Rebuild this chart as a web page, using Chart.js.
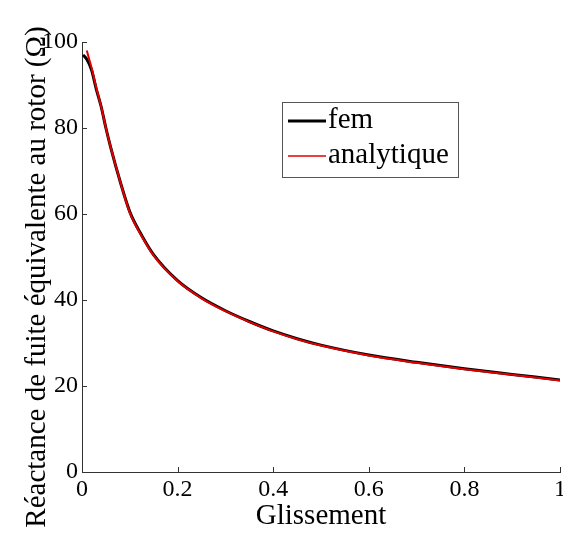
<!DOCTYPE html>
<html>
<head>
<meta charset="utf-8">
<script src="https://cdn.jsdelivr.net/npm/chart.js@4"></script>
<style>
  body { margin: 0; background: #fff; }
  #chart { display: block; }
</style>
</head>
<body>
<canvas id="chart" width="563" height="536"></canvas>
<script>
// slip values (x axis)
const slip = [0.002, 0.01, 0.02, 0.03, 0.04, 0.05, 0.06, 0.08, 0.1, 0.125, 0.15, 0.2, 0.25, 0.3, 0.35, 0.4, 0.45, 0.5, 0.6, 0.7, 0.8, 0.9, 1.0];
// finite element result
const femValues = [97.0, 96.0, 93.5, 89.0, 85.0, 80.0, 75.5, 67.5, 60.5, 55.0, 50.5, 44.5, 40.5, 37.5, 35.0, 32.8, 31.0, 29.5, 27.2, 25.5, 24.0, 22.7, 21.4];
// analytical model (starts a bit later)
const analyticSlip = slip.slice(1);
const analyticValues = [98.0, 94.0, 89.3, 85.0, 80.0, 75.5, 67.5, 60.3, 54.8, 50.3, 44.4, 40.4, 37.4, 34.9, 32.7, 30.9, 29.4, 27.1, 25.4, 23.9, 22.6, 21.3];

const xTicks = [0, 0.2, 0.4, 0.6, 0.8, 1];
const yTicks = [0, 20, 40, 60, 80, 100];

const serif = '"Liberation Serif", "DejaVu Serif", serif';
const yTitle = 'Réactance de fuite équivalente au rotor (Ω)';

const toPoints = (xs, ys) => xs.map((x, i) => ({ x: x, y: ys[i] }));

// inward tick marks on the left and bottom axes
const inwardTicks = {
  id: 'inwardTicks',
  afterDatasetsDraw(chart) {
    const { ctx, chartArea, scales } = chart;
    ctx.save();
    ctx.strokeStyle = '#333';
    ctx.lineWidth = 1;
    ctx.beginPath();
    xTicks.forEach(v => {
      const px = Math.round(scales.x.getPixelForValue(v)) + 0.5;
      ctx.moveTo(px, chartArea.bottom);
      ctx.lineTo(px, chartArea.bottom - 5);
    });
    yTicks.forEach(v => {
      const py = Math.round(scales.y.getPixelForValue(v)) + 0.5;
      ctx.moveTo(chartArea.left, py);
      ctx.lineTo(chartArea.left + 5, py);
    });
    ctx.stroke();
    ctx.restore();
  }
};

// y axis title, drawn rotated on the far left
const sideTitle = {
  id: 'sideTitle',
  afterDraw(chart) {
    const { ctx } = chart;
    ctx.save();
    ctx.translate(45, 277);
    ctx.rotate(-Math.PI / 2);
    ctx.font = '29px ' + serif;
    ctx.fillStyle = '#000';
    ctx.textAlign = 'center';
    ctx.textBaseline = 'alphabetic';
    ctx.fillText(yTitle, 0, 0);
    ctx.restore();
  }
};

// boxed legend inside the plot
const boxLegend = {
  id: 'boxLegend',
  afterDraw(chart) {
    const { ctx } = chart;
    const sets = chart.data.datasets;
    ctx.save();
    ctx.fillStyle = '#fff';
    ctx.fillRect(282, 102, 176, 75);
    ctx.strokeStyle = '#555';
    ctx.lineWidth = 1;
    ctx.strokeRect(282.5, 102.5, 176, 75);
    ctx.font = '29px ' + serif;
    ctx.textBaseline = 'alphabetic';
    sets.forEach((ds, i) => {
      const ly = 121 + i * 35;
      ctx.strokeStyle = ds.borderColor;
      ctx.lineWidth = i === 0 ? 3 : 1.5;
      ctx.beginPath();
      ctx.moveTo(288, ly);
      ctx.lineTo(326, ly);
      ctx.stroke();
      ctx.fillStyle = '#000';
      ctx.fillText(ds.label, 328, ly + 7);
    });
    ctx.restore();
  }
};

new Chart(document.getElementById('chart'), {
  type: 'line',
  data: {
    datasets: [{
      label: 'fem',
      data: toPoints(slip, femValues),
      borderColor: '#000',
      borderWidth: 3,
      pointRadius: 0,
      cubicInterpolationMode: 'monotone',
      order: 2
    }, {
      label: 'analytique',
      data: toPoints(analyticSlip, analyticValues),
      borderColor: '#e00000',
      borderWidth: 2,
      pointRadius: 0,
      cubicInterpolationMode: 'monotone',
      order: 1
    }]
  },
  options: {
    responsive: false,
    animation: false,
    layout: { padding: { top: 42, right: 3, left: 0, bottom: 0 } },
    plugins: {
      legend: { display: false },
      tooltip: { enabled: false }
    },
    scales: {
      x: {
        type: 'linear',
        min: 0,
        max: 1,
        grid: { display: false, drawTicks: false },
        border: { display: true, color: '#333' },
        ticks: {
          stepSize: 0.2,
          padding: 3,
          color: '#000',
          font: { family: serif, size: 24 },
          callback: v => String(+v.toFixed(1))
        },
        title: {
          display: true,
          text: 'Glissement',
          color: '#000',
          font: { family: serif, size: 29 },
          padding: { top: 0, bottom: 2 }
        },
        afterFit(scale) {
          scale.height = 64;
          scale.paddingLeft = 0;
          scale.paddingRight = 0;
        }
      },
      y: {
        min: 0,
        max: 100,
        grid: { display: false, drawTicks: false },
        border: { display: true, color: '#333' },
        ticks: {
          stepSize: 20,
          padding: 4,
          color: '#000',
          font: { family: serif, size: 24 }
        },
        afterFit(scale) {
          scale.width = 82;
          scale.paddingTop = 0;
          scale.paddingBottom = 0;
        }
      }
    }
  },
  plugins: [inwardTicks, sideTitle, boxLegend]
});
</script>
</body>
</html>
